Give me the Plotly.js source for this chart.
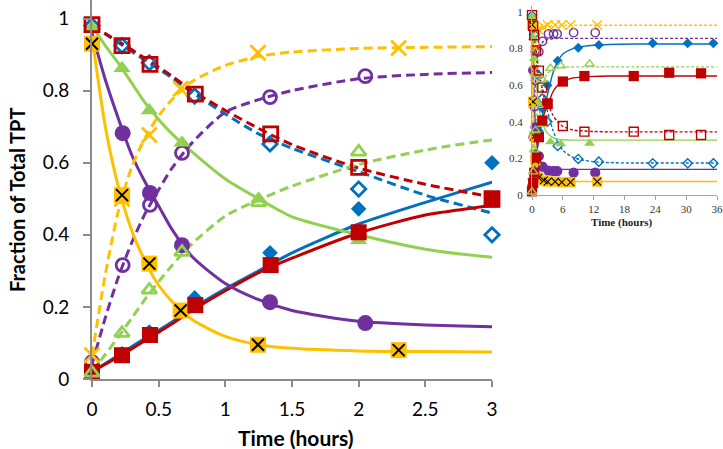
<!DOCTYPE html>
<html><head><meta charset="utf-8">
<script src="https://cdn.plot.ly/plotly-3.0.1.min.js"></script>
<style>html,body{margin:0;padding:0;background:#fff}#chart{width:723px;height:449px}</style>
</head><body><div id="chart"></div>
<script>
// ---------- measured data points (time in hours, fraction of total TPT) ----------
const tBlue = [0, 0.225, 0.43, 0.77, 1.335, 2, 3, 5, 9, 13, 23.5, 30.3, 35.3];
const blueFilled = [0.02, 0.07, 0.13, 0.225, 0.35, 0.472, 0.60, 0.734, 0.805, 0.82, 0.829, 0.829, 0.829];
const blueOpen = [0.98, 0.925, 0.877, 0.785, 0.652, 0.527, 0.40, 0.268, 0.197, 0.182, 0.173, 0.173, 0.173];

const tRed = [0, 0.225, 0.435, 0.775, 1.34, 2, 3, 6, 10.2, 19.8, 26.7, 32.9];
const redFilled = [0.02, 0.066, 0.122, 0.205, 0.316, 0.407, 0.497, 0.62, 0.65, 0.65, 0.668, 0.665];
const redOpen = [0.983, 0.925, 0.873, 0.79, 0.68, 0.587, 0.50, 0.377, 0.346, 0.346, 0.328, 0.328];

const tGreen = [0, 0.225, 0.43, 0.675, 1.25, 2, 3.6, 5.6, 11.2];
const greenFilled = [0.975, 0.862, 0.745, 0.655, 0.50, 0.385, 0.29, 0.28, 0.282];
const greenOpen = [0.017, 0.127, 0.247, 0.352, 0.49, 0.63, 0.692, 0.706, 0.716];

const tPurple = [0, 0.23, 0.435, 0.675, 1.335, 2.05, 3.2, 4.2, 4.9, 8.1, 12.3];
const purpleFilled = [null, 0.682, 0.516, 0.371, 0.213, 0.155, 0.133, 0.13, 0.13, 0.122, 0.122];
const purpleOpen = [0.047, 0.316, 0.483, 0.627, 0.782, 0.84, 0.88, 0.88, 0.88, 0.887, 0.887];

const tYellow = [0, 0.225, 0.43, 0.665, 1.245, 2.3, 3.05, 4.5, 5.8, 7.5, 12.7];
const yellowSqX = [0.93, 0.51, 0.32, 0.19, 0.095, 0.08, 0.073, 0.073, 0.07, 0.07, 0.073];
const yellowX = [0.066, 0.50, 0.677, 0.805, 0.905, 0.918, 0.929, 0.929, 0.929, 0.929, 0.929];

// ---------- fitted curves ----------
const tFit = [0, 0.1, 0.2, 0.3, 0.4, 0.5, 0.6, 0.75, 1, 1.25, 1.5, 2, 2.5, 3, 4, 5, 6, 8, 10, 12, 15, 20, 36];
const blueSolidFit = [0.02, 0.043, 0.066, 0.09, 0.113, 0.135, 0.158, 0.195, 0.25, 0.3, 0.35, 0.43, 0.49, 0.546, 0.66, 0.73, 0.77, 0.8, 0.812, 0.818, 0.822, 0.825, 0.825];
const blueDashFit = [0.98, 0.957, 0.933, 0.908, 0.884, 0.86, 0.835, 0.795, 0.735, 0.68, 0.64, 0.575, 0.51, 0.46, 0.36, 0.29, 0.245, 0.205, 0.19, 0.182, 0.177, 0.175, 0.175];
const redSolidFit = [0.02, 0.041, 0.062, 0.084, 0.107, 0.13, 0.153, 0.19, 0.245, 0.295, 0.335, 0.405, 0.455, 0.482, 0.56, 0.6, 0.62, 0.64, 0.645, 0.648, 0.65, 0.65, 0.65];
const redDashFit = [0.98, 0.958, 0.936, 0.913, 0.889, 0.865, 0.84, 0.8, 0.745, 0.695, 0.65, 0.585, 0.54, 0.505, 0.44, 0.4, 0.375, 0.355, 0.35, 0.347, 0.345, 0.345, 0.345];
const greenSolidFit = [0.98, 0.925, 0.875, 0.82, 0.765, 0.72, 0.68, 0.63, 0.555, 0.5, 0.45, 0.4, 0.36, 0.338, 0.315, 0.305, 0.302, 0.3, 0.3, 0.3, 0.3, 0.3, 0.3];
const greenDashFit = [0.02, 0.068, 0.118, 0.17, 0.222, 0.27, 0.315, 0.375, 0.452, 0.497, 0.535, 0.595, 0.635, 0.663, 0.685, 0.695, 0.698, 0.7, 0.7, 0.7, 0.7, 0.7, 0.7];
const purpleSolidFit = [0.96, 0.83, 0.72, 0.62, 0.545, 0.48, 0.415, 0.34, 0.265, 0.22, 0.19, 0.16, 0.15, 0.145, 0.142, 0.14, 0.14, 0.14, 0.14, 0.14, 0.14, 0.14, 0.14];
const purpleDashFit = [0.04, 0.17, 0.285, 0.38, 0.46, 0.525, 0.585, 0.655, 0.74, 0.775, 0.8, 0.833, 0.845, 0.85, 0.854, 0.856, 0.856, 0.856, 0.856, 0.856, 0.856, 0.856, 0.856];
const yellowSolidFit = [0.95, 0.70, 0.53, 0.41, 0.325, 0.26, 0.215, 0.165, 0.118, 0.095, 0.085, 0.078, 0.076, 0.075, 0.074, 0.074, 0.074, 0.074, 0.074, 0.074, 0.074, 0.074, 0.074];
const yellowDashFit = [0.065, 0.29, 0.47, 0.59, 0.67, 0.73, 0.775, 0.825, 0.87, 0.895, 0.907, 0.917, 0.92, 0.922, 0.925, 0.926, 0.927, 0.928, 0.928, 0.928, 0.928, 0.928, 0.928];

// ---------- ticks ----------
const xTicks = [0, 0.5, 1, 1.5, 2, 2.5, 3];
const xTickText = ['0', '0.5', '1', '1.5', '2', '2.5', '3'];
const yTicks = [0, 0.2, 0.4, 0.6, 0.8, 1];
const yTickText = ['0', '0.2', '0.4', '0.6', '0.8', '1'];
const x2Ticks = [0, 6, 12, 18, 24, 30, 36];
const x2TickText = ['0', '6', '12', '18', '24', '30', '36'];

const C = {blue:'#0070C0', red:'#C00000', green:'#92D050', purple:'#7030A0', yellow:'#FFC000'};

function upTo(t, v, max){
  const xs=[], ys=[];
  t.forEach((ti,i)=>{ if (ti <= max + 1e-9) { xs.push(ti); ys.push(v[i]); } });
  return [xs, ys];
}
function lineTrace(t, v, color, dashed, inset){
  return {type:'scatter', mode:'lines', x:t, y:v,
    xaxis: inset?'x2':'x', yaxis: inset?'y2':'y',
    line:{color:color, width: inset?1.4:3, dash: dashed ? (inset?'3px,2px':'9px,5px') : 'solid', shape:'spline', smoothing:0.7},
    hoverinfo:'skip'};
}
function markerTrace(t, v, symbol, color, size, lineColor, lineWidth, inset){
  const xy = inset ? [t, v] : upTo(t, v, 3);
  return {type:'scatter', mode:'markers', x:xy[0], y:xy[1],
    xaxis: inset?'x2':'x', yaxis: inset?'y2':'y', cliponaxis:false,
    marker:{symbol:symbol, color:color, size:size, line:{color:lineColor, width:lineWidth}},
    hoverinfo:'skip'};
}

const traces = [];
function addAll(inset){
  const s = inset ? 0.64 : 1;
  const lw = inset ? 1.4 : 2.8;
  [[blueSolidFit,C.blue,false],[blueDashFit,C.blue,true],[redSolidFit,C.red,false],[redDashFit,C.red,true],
   [greenSolidFit,C.green,false],[greenDashFit,C.green,true],[purpleSolidFit,C.purple,false],[purpleDashFit,C.purple,true],
   [yellowSolidFit,C.yellow,false],[yellowDashFit,C.yellow,true]].forEach(d=>traces.push(lineTrace(tFit,d[0],d[1],d[2],inset)));
  traces.push(markerTrace(tBlue, blueOpen, 'diamond-open', C.blue, 11*s, C.blue, lw, inset));
  traces.push(markerTrace(tBlue, blueFilled, 'diamond', C.blue, 12*s, C.blue, 0, inset));
  traces.push(markerTrace(tPurple, purpleFilled, 'circle', C.purple, 16*s, C.purple, 0, inset));
  traces.push(markerTrace(tPurple, purpleOpen, 'circle-open', C.purple, 13*s, C.purple, lw, inset));
  traces.push(markerTrace(tGreen, greenFilled, 'triangle-up', C.green, 15*s, C.green, 0, inset));
  traces.push(markerTrace(tYellow, yellowX, 'x-thin-open', C.yellow, 15*s, C.yellow, lw, inset));
  traces.push(markerTrace(tYellow, yellowSqX, 'square', C.yellow, 16*s, C.yellow, 0, inset));
  traces.push(markerTrace(tYellow, yellowSqX, 'x-thin-open', '#000', 12*s, '#000', inset?1.1:2, inset));
  traces.push(markerTrace(tRed, redOpen, 'square-open', C.red, 14*s, C.red, lw, inset));
  traces.push(markerTrace(tRed, redFilled, 'square', C.red, 16*s, C.red, 0, inset));
  traces.push(markerTrace(tGreen, greenOpen, 'triangle-up-open', C.green, 13*s, C.green, lw, inset));
}
addAll(false);
addAll(true);

const axisGray = '#8c8c8c';
const layout = {
  width:723, height:449, margin:{l:0, r:0, t:0, b:0},
  paper_bgcolor:'#ffffff', plot_bgcolor:'rgba(0,0,0,0)', showlegend:false,
  xaxis:{domain:[92/723, 492/723], range:[0,3], anchor:'y', showgrid:false, zeroline:false,
    showline:true, linecolor:axisGray, linewidth:2, ticks:'outside', ticklen:6, tickwidth:2, tickcolor:axisGray,
    tickmode:'array', tickvals:xTicks, ticktext:xTickText, ticklabelstandoff:6,
    tickfont:{family:'Lato, sans-serif', size:19, color:'#000'}},
  yaxis:{domain:[70/449, 1], range:[0, 379/360.5], anchor:'x', showgrid:false, zeroline:false,
    showline:true, linecolor:axisGray, linewidth:2, ticks:'outside', ticklen:7, tickwidth:2, tickcolor:axisGray,
    tickmode:'array', tickvals:yTicks, ticktext:yTickText, ticklabelstandoff:10,
    tickfont:{family:'Lato, sans-serif', size:19, color:'#000'}},
  xaxis2:{domain:[532/723, 717/723], range:[0,36], anchor:'y2', showgrid:false, zeroline:false,
    showline:true, linecolor:'#a6a6a6', linewidth:1, ticks:'outside', ticklen:4, tickwidth:1, tickcolor:'#a6a6a6',
    tickmode:'array', tickvals:x2Ticks, ticktext:x2TickText, ticklabelstandoff:0,
    tickfont:{family:'Liberation Serif, serif', size:11, color:'#333'}},
  yaxis2:{domain:[(449-195)/449, (449-6)/449], range:[0, 189/183], anchor:'x2', showgrid:false, zeroline:false,
    showline:true, linecolor:'#a6a6a6', linewidth:1, ticks:'',
    tickmode:'array', tickvals:yTicks, ticktext:yTickText, ticklabelstandoff:6,
    tickfont:{family:'Liberation Serif, serif', size:11, color:'#333'}},
  annotations:[
    {text:'<b>Fraction of Total TPT</b>', xref:'paper', yref:'paper', x:17/723, y:(449-200)/449,
     textangle:-90, showarrow:false, xanchor:'center', yanchor:'middle', font:{family:'Lato, sans-serif', size:20, color:'#000'}},
    {text:'<b>Time (hours)</b>', xref:'paper', yref:'paper', x:296/723, y:(449-437)/449,
     showarrow:false, xanchor:'center', yanchor:'middle', font:{family:'Lato, sans-serif', size:21, color:'#000'}},
    {text:'<b>Time (hours)</b>', xref:'paper', yref:'paper', x:622/723, y:(449-223)/449,
     showarrow:false, xanchor:'center', yanchor:'middle', font:{family:'Liberation Serif, serif', size:11, color:'#222'}}
  ]
};

Plotly.newPlot('chart', traces, layout, {staticPlot:true, displayModeBar:false});
</script>
</body></html>
